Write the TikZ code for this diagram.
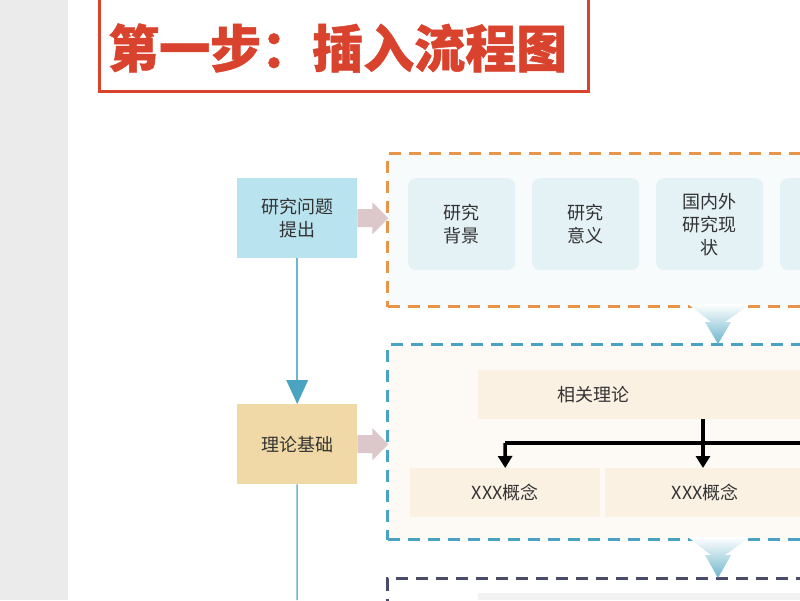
\documentclass[tikz,border=0pt]{standalone}
\usepackage{fontspec}
\newfontfamily\cjk{Noto Sans CJK SC}
\newfontfamily\cjkb{Noto Sans CJK SC Black}[FakeBold=1]
\usetikzlibrary{arrows.meta,shadings}
\definecolor{tred}{HTML}{D9432E}
\definecolor{qblue}{HTML}{B9E3EF}
\definecolor{lblue}{HTML}{E4F1F5}
\definecolor{orng}{HTML}{E8944A}
\definecolor{dblue}{HTML}{4AA3C0}
\definecolor{lineb}{HTML}{6CB8D0}
\definecolor{tan}{HTML}{F0D9A6}
\definecolor{cream}{HTML}{FBF1E3}
\definecolor{pink}{HTML}{DCC8CA}
\definecolor{purp}{HTML}{4A4A6A}
\tikzset{
 x=1pt,y=-1pt,
 txt/.style={font=\cjk\fontsize{18}{23}\selectfont,text=black!80,align=center},
 side/.style={txt,draw=none,minimum width=120pt,minimum height=80pt,anchor=north west},
 inner/.style={txt,fill=lblue,rounded corners=8pt,minimum width=107pt,minimum height=92pt,anchor=north west},
 cbox/.style={txt,fill=cream,anchor=north west,minimum height=49pt},
 fat/.style={fill=pink},
 grp/.style={dash pattern=on 12pt off 8pt,line width=3pt},
 funnel/.style={top color=white,bottom color=dblue!80},
 conn/.style={draw=lineb,line width=1.5pt},
 blk/.style={line width=3.5pt},
 blka/.style={blk,-{Triangle[length=12pt,width=14pt]}}
}
\begin{document}
\begin{tikzpicture}
\useasboundingbox (0,0) rectangle (800,600);
\fill[black!8] (0,0) rectangle (68,600);
\fill[white] (68,0) rectangle (800,600);
% title
\node[draw=tred,line width=3pt,minimum width=489pt,minimum height=100pt,anchor=south west,inner sep=0pt] (title) at (98,93) {};
\node[font=\cjkb\fontsize{51}{55}\selectfont,text=tred,anchor=west,inner sep=0pt] (tt) at (108,48) {第一步：插入流程图};
% group 1
\node[draw=orng,grp,fill=lblue!30,minimum width=440pt,minimum height=153pt,anchor=north west] (g1) at (386,152) {};
\node[inner] (b1) at (408,178) {研究\\背景};
\node[inner] (b2) at (532,178) {研究\\意义};
\node[inner] (b3) at (656,178) {国内外\\研究现\\状};
\node[inner] (b4) at (780,178) {};
% group 2
\node[draw=dblue,grp,fill=cream!40,minimum width=440pt,minimum height=195pt,anchor=north west] (g2) at (386,343) {};
\node[cbox,minimum width=340pt] (rel) at (478,370) {\hspace{-110pt}相关理论};
\node[cbox,minimum width=190pt] (c1) at (410,468) {XXX概念};
\node[cbox,minimum width=200pt] (c2) at (605,468) {XXX概念};
\coordinate (split) at (703,443);
\coordinate (r1) at (505,443);
\coordinate (r2) at (800,443);
\draw[blk] (rel.south -| split) -- (split);
\draw[blk] (r1) -- (r2);
\draw[blka] (r1) -- (c1.north);
\draw[blka] (split) -- (c2.north -| split);
% group 3
\node[draw=purp,grp,minimum width=440pt,minimum height=80pt,anchor=north west] (g3) at (386,577) {};
\fill[black!5] (478,593) rectangle (800,600);
% funnels
\shade[funnel] (688,304) -- (750,304) -- (725,322) -- (731,322) -- (718,344) -- (705,322) -- (711,322) -- cycle;
\shade[funnel] (688,537) -- (750,537) -- (725,555) -- (731,555) -- (718,578) -- (705,555) -- (711,555) -- cycle;
% left column
\node[side,fill=qblue] (q) at (237,178) {研究问题\\提出};
\node[side,fill=tan] (t) at (237,404) {理论基础};
\coordinate (bot) at (297,600);
\draw[conn] (q.south) -- ([yshift=20pt]t.north);
\fill[dblue] (t.north) ++(-11,-24) -- ++(22,0) -- (t.north) -- cycle;
\draw[conn] (t) -- (bot);
\fill[fat] (q.east) ++(0,-9) -- ++(15,0) -- ++(0,-7) -- ++(16,16) -- ++(-16,16) -- ++(0,-7) -- ++(-15,0) -- cycle;
\fill[fat] (t.east) ++(0,-9) -- ++(15,0) -- ++(0,-7) -- ++(16,16) -- ++(-16,16) -- ++(0,-7) -- ++(-15,0) -- cycle;
\end{tikzpicture}
\end{document}
